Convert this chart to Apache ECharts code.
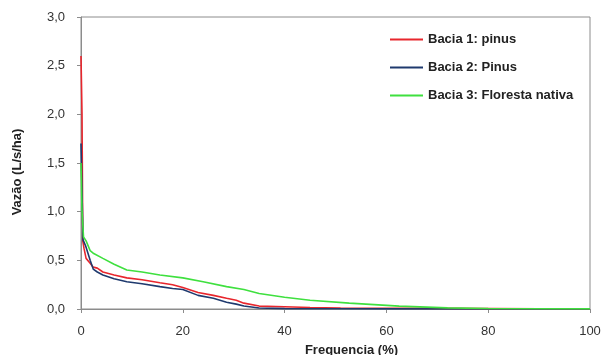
<!DOCTYPE html>
<html><head><meta charset="utf-8">
<script src="https://cdn.jsdelivr.net/npm/echarts@6/dist/echarts.min.js"></script>
<style>html,body{margin:0;padding:0;background:#fff}#c{width:607px;height:355px}</style>
</head><body><div id="c"></div>
<script>
var seriesNames = ['Bacia 1: pinus', 'Bacia 2: Pinus', 'Bacia 3: Floresta nativa'];
var xTicks = [0, 20, 40, 60, 80, 100];
var yTicks = [0, 0.5, 1.0, 1.5, 2.0, 2.5, 3.0];
var bacia1 = [[0,2.6],[0.2,2.0],[0.35,0.7],[0.6,0.62],[1,0.52],[1.8,0.47],[2.4,0.43],[3.2,0.42],[4.3,0.38],[6.5,0.35],[9,0.32],[12,0.3],[15.5,0.27],[18,0.25],[20,0.22],[23,0.17],[26,0.14],[28.6,0.11],[30.5,0.09],[32,0.06],[35,0.03],[41.6,0.02],[45,0.015],[51,0.01],[60,0.008],[70,0.006],[80,0.004],[90,0.002],[100,0.0]];
var bacia2 = [[0,1.7],[0.2,1.2],[0.4,0.71],[0.9,0.65],[1.8,0.5],[2.4,0.41],[3.2,0.38],[4.3,0.35],[6.5,0.31],[9,0.28],[12,0.26],[15.5,0.23],[18,0.21],[20,0.2],[23,0.14],[26,0.11],[28.6,0.07],[30.5,0.05],[32,0.03],[35,0.01],[40,0.004],[50,0.002],[60,0.001],[80,0.0],[100,0.0]];
var bacia3 = [[0,1.5],[0.2,1.0],[0.5,0.74],[1,0.7],[1.8,0.6],[2.5,0.57],[4.3,0.52],[6.5,0.46],[9,0.4],[12,0.38],[15.5,0.35],[20,0.32],[24,0.28],[28.6,0.23],[32,0.2],[35,0.16],[40,0.12],[45,0.09],[52.7,0.06],[62.5,0.03],[72,0.012],[80,0.005],[90,0.002],[100,0.001]];

var chart = echarts.init(document.getElementById('c'));
var axisGrey = '#8c8c8c';
function mk(name, data, color){
  return {name:name, type:'line', data:data, showSymbol:false, symbol:'none',
    lineStyle:{color:color, width:1.6}, itemStyle:{color:color}, animation:false};
}
chart.setOption({
  animation:false,
  grid:{left:81, right:17, top:17, bottom:46, show:true, borderColor:axisGrey, borderWidth:1,
    containLabel:false, outerBoundsMode:'none'},
  legend:{orient:'vertical', left:390, top:33, itemWidth:33, itemHeight:2, itemGap:15, icon:'rect', padding:0,
    textStyle:{fontFamily:'Liberation Sans', fontSize:13, fontWeight:'bold', color:'#222'},
    data:seriesNames},
  xAxis:{type:'value', min:xTicks[0], max:xTicks[xTicks.length-1], interval:20,
    name:'Frequencia (%)', nameLocation:'middle', nameGap:35,
    nameTextStyle:{fontFamily:'Liberation Sans', fontSize:13, fontWeight:'bold', color:'#222', padding:[0,0,0,32]},
    axisLine:{lineStyle:{color:axisGrey}}, axisTick:{show:true, length:4, lineStyle:{color:axisGrey}},
    splitLine:{show:false},
    axisLabel:{fontFamily:'Liberation Sans', fontSize:13, color:'#333', margin:16}},
  yAxis:{type:'value', min:yTicks[0], max:yTicks[yTicks.length-1], interval:0.5,
    name:'Vazão (L/s/ha)', nameLocation:'middle', nameGap:57, nameRotate:90,
    nameTextStyle:{fontFamily:'Liberation Sans', fontSize:13, fontWeight:'bold', color:'#222', padding:[0,18,0,0]},
    axisLine:{show:true, lineStyle:{color:axisGrey}}, axisTick:{show:true, length:4, lineStyle:{color:axisGrey}},
    splitLine:{show:false},
    axisLabel:{fontFamily:'Liberation Sans', fontSize:13, color:'#333', margin:16,
      formatter:function(v){return v.toFixed(1).replace('.', ',');}}},
  series:[mk(seriesNames[0], bacia1, '#e8262d'), mk(seriesNames[1], bacia2, '#1f3a6e'), mk(seriesNames[2], bacia3, '#3fe03f')]
});
</script></body></html>
